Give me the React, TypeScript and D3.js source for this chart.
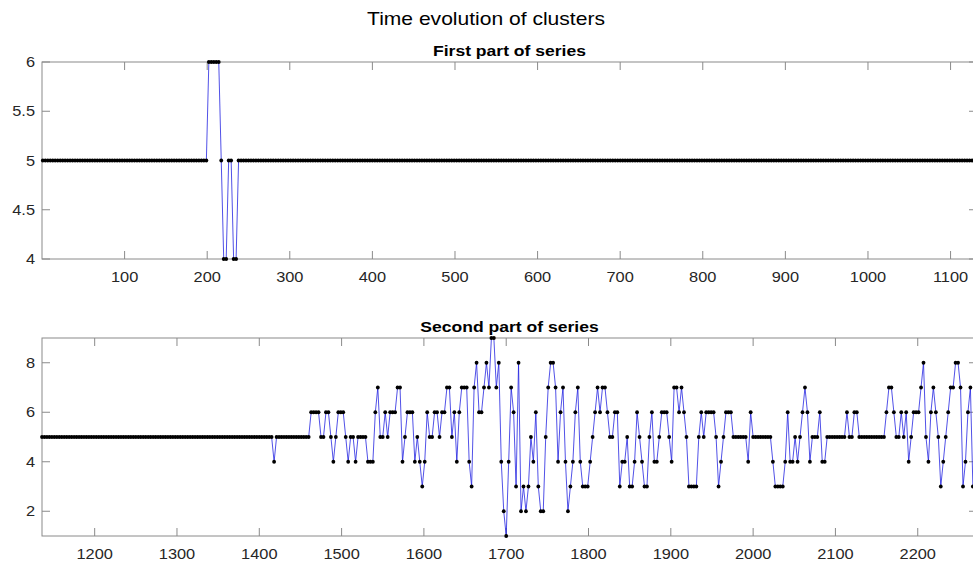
import React from 'react';
import * as d3 from 'd3';

const FIGURE_TITLE = 'Time evolution of clusters';
const PANEL_TITLES = ['First part of series', 'Second part of series'];

// samples are taken every SAMPLE_STEP time units
const SAMPLE_STEP = 3;

// first part: run-length encoded values (value, number of samples)
const SERIES1_START = 1;
const SERIES1_RUN_VALUES = [5, 6, 5, 4, 5, 4, 5];
const SERIES1_RUN_COUNTS = [67, 5, 1, 2, 2, 2, 299];

// second part: flat lead-in (run-length) followed by sample-by-sample values
const SERIES2_START = 1136;
const SERIES2_LEAD_VALUES = [5, 4, 5];
const SERIES2_LEAD_COUNTS = [94, 1, 14];
const SERIES2_DETAIL = [
  6, 6, 6, 6, 5, 5, 6, 6, 5, 4, 5, 6, 6, 6, 5, 4, 5, 5, 4, 5, 5, 5, 5, 4, 4, 4,
  6, 7, 5, 5, 6, 5, 6, 6, 6, 7, 7, 4, 5, 6, 6, 6, 4, 5, 4, 3, 4, 6, 5, 5, 6, 6,
  5, 6, 6, 7, 7, 5, 6, 4, 6, 7, 7, 7, 4, 3, 7, 8, 6, 6, 7, 8, 7, 9, 9, 7, 8, 4,
  2, 1, 4, 7, 6, 3, 8, 2, 3, 2, 3, 5, 4, 6, 3, 2, 2, 5, 7, 8, 8, 7, 4, 6, 7, 4,
  2, 3, 4, 6, 7, 4, 3, 3, 3, 4, 5, 6, 7, 6, 7, 7, 6, 5, 5, 6, 6, 3, 4, 4, 5, 3,
  3, 4, 6, 5, 4, 3, 3, 5, 6, 4, 4, 5, 6, 6, 6, 5, 4, 7, 7, 6, 7, 6, 5, 3, 3, 3,
  3, 5, 6, 5, 6, 6, 6, 6, 5, 3, 4, 5, 6, 6, 6, 5, 5, 5, 5, 5, 5, 4, 6, 5, 5, 5,
  5, 5, 5, 5, 5, 4, 3, 3, 3, 3, 4, 6, 4, 4, 5, 4, 5, 6, 7, 6, 4, 5, 5, 5, 6, 4,
  4, 5, 5, 5, 5, 5, 5, 5, 5, 6, 5, 5, 6, 6, 5, 5, 5, 5, 5, 5, 5, 5, 5, 5, 5, 6,
  7, 7, 6, 5, 5, 6, 5, 6, 4, 5, 6, 6, 6, 7, 8, 5, 4, 6, 7, 6, 5, 3, 4, 5, 6, 7,
  7, 8, 8, 7, 3, 4, 6, 7, 3,
];

const X1_DOMAIN = [0, 1132];
const X1_TICKS = [100, 200, 300, 400, 500, 600, 700, 800, 900, 1000, 1100];
const Y1_DOMAIN = [4, 6];
const Y1_TICKS = [4, 4.5, 5, 5.5, 6];

const X2_DOMAIN = [1136, 2272];
const X2_TICKS = [1200, 1300, 1400, 1500, 1600, 1700, 1800, 1900, 2000, 2100, 2200];
const Y2_DOMAIN = [1, 9];
const Y2_TICKS = [2, 4, 6, 8];

type Pt = { t: number; v: number };

function expandRuns(start: number, values: number[], counts: number[]): Pt[] {
  const out: Pt[] = [];
  let k = 0;
  values.forEach((v, i) => {
    for (let j = 0; j < counts[i]; j++) {
      out.push({ t: start + k * SAMPLE_STEP, v });
      k++;
    }
  });
  return out;
}

const series1 = expandRuns(SERIES1_START, SERIES1_RUN_VALUES, SERIES1_RUN_COUNTS);
const series2Lead = expandRuns(SERIES2_START, SERIES2_LEAD_VALUES, SERIES2_LEAD_COUNTS);
const series2 = series2Lead.concat(
  SERIES2_DETAIL.map((v, i) => ({ t: SERIES2_START + (series2Lead.length + i) * SAMPLE_STEP, v }))
);

const W = 973;
const H = 561;
const FONT = '"Liberation Sans", Arial, Helvetica, sans-serif';
const AXIS_COLOR = '#8a8a8a';
const TEXT_COLOR = '#262626';
const TICK_LEN = 8;
const STRETCH = 1.17;

function SText(props: {
  x: number;
  y: number;
  anchor: 'start' | 'middle' | 'end';
  size: number;
  weight?: string;
  fill?: string;
  children: React.ReactNode;
}) {
  return (
    <text
      transform={`translate(${props.x},${props.y}) scale(${STRETCH},1)`}
      textAnchor={props.anchor}
      fontFamily={FONT}
      fontSize={props.size}
      fontWeight={props.weight || 'normal'}
      fill={props.fill || TEXT_COLOR}
    >
      {props.children}
    </text>
  );
}

type PanelProps = {
  id: string;
  box: { left: number; top: number; right: number; bottom: number };
  data: Pt[];
  xDomain: number[];
  xTicks: number[];
  yDomain: number[];
  yTicks: number[];
  title: string;
};

function Panel({ id, box, data, xDomain, xTicks, yDomain, yTicks, title }: PanelProps) {
  const x = d3.scaleLinear().domain(xDomain).range([box.left, box.right]);
  const y = d3.scaleLinear().domain(yDomain).range([box.bottom, box.top]);
  const line = d3
    .line<Pt>()
    .x((d) => x(d.t))
    .y((d) => y(d.v));
  return (
    <g>
      <defs>
        <clipPath id={id}>
          <rect x={box.left - 3} y={box.top - 3} width={box.right - box.left + 6} height={box.bottom - box.top + 6} />
        </clipPath>
      </defs>
      <rect
        x={box.left}
        y={box.top}
        width={box.right - box.left}
        height={box.bottom - box.top}
        fill="#fff"
        stroke={AXIS_COLOR}
        strokeWidth={1}
      />
      {xTicks.map((t) => (
        <g key={'x' + t}>
          <line x1={x(t)} x2={x(t)} y1={box.bottom} y2={box.bottom - TICK_LEN} stroke={AXIS_COLOR} />
          <line x1={x(t)} x2={x(t)} y1={box.top} y2={box.top + TICK_LEN} stroke={AXIS_COLOR} />
          <SText x={x(t)} y={box.bottom + 23} anchor="middle" size={14}>
            {t}
          </SText>
        </g>
      ))}
      {yTicks.map((v) => (
        <g key={'y' + v}>
          <line x1={box.left} x2={box.left + TICK_LEN} y1={y(v)} y2={y(v)} stroke={AXIS_COLOR} />
          <line x1={box.right} x2={box.right - TICK_LEN} y1={y(v)} y2={y(v)} stroke={AXIS_COLOR} />
          <SText x={box.left - 7} y={y(v) + 5} anchor="end" size={14}>
            {String(v)}
          </SText>
        </g>
      ))}
      <g clipPath={`url(#${id})`}>
        <path d={line(data) || ''} fill="none" stroke="#1a1ae0" strokeWidth={0.9} strokeOpacity={0.85} />
        {data.map((d, i) => (
          <circle key={i} cx={x(d.t)} cy={y(d.v)} r={1.9} fill="#000" />
        ))}
      </g>
      <SText x={(box.left + box.right) / 2} y={box.top - 6} anchor="middle" size={15} weight="bold" fill="#000">
        {title}
      </SText>
    </g>
  );
}

export default function App() {
  return (
    <svg
      width={W}
      height={H}
      viewBox={`0 0 ${W} ${H}`}
      style={{ position: 'fixed', left: 0, top: 0, background: '#fff' }}
    >
      <rect x={0} y={0} width={W} height={H} fill="#fff" />
      <SText x={486} y={25} anchor="middle" size={18} fill="#000">
        {FIGURE_TITLE}
      </SText>
      <Panel
        id="clip-top"
        box={{ left: 42, top: 62, right: 977, bottom: 259 }}
        data={series1}
        xDomain={X1_DOMAIN}
        xTicks={X1_TICKS}
        yDomain={Y1_DOMAIN}
        yTicks={Y1_TICKS}
        title={PANEL_TITLES[0]}
      />
      <Panel
        id="clip-bottom"
        box={{ left: 42, top: 338, right: 977, bottom: 536 }}
        data={series2}
        xDomain={X2_DOMAIN}
        xTicks={X2_TICKS}
        yDomain={Y2_DOMAIN}
        yTicks={Y2_TICKS}
        title={PANEL_TITLES[1]}
      />
    </svg>
  );
}
